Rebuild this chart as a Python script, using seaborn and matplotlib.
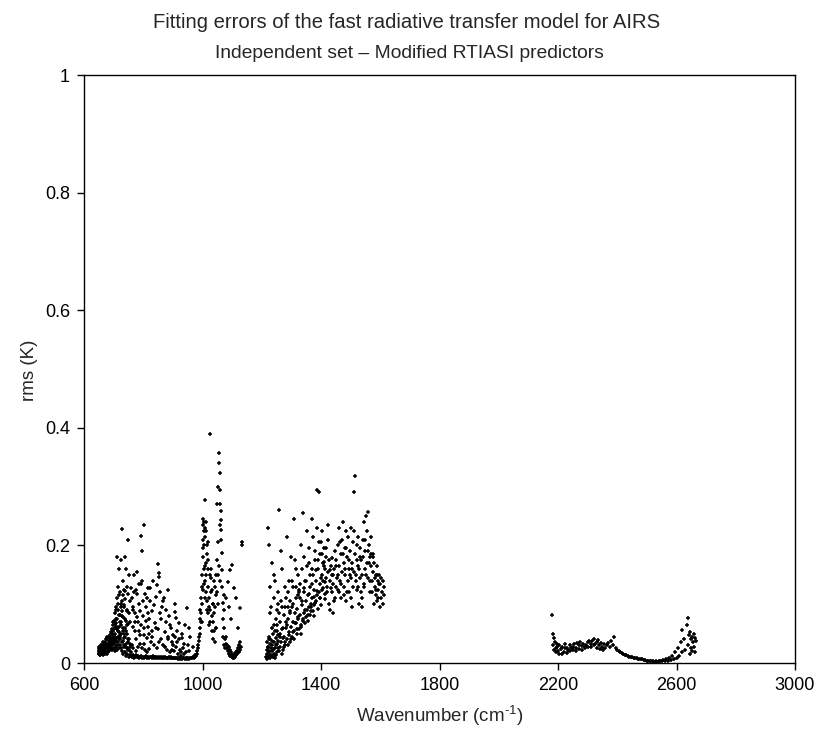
import numpy as np
import pandas as pd
import matplotlib
matplotlib.use("Agg")
import matplotlib.pyplot as plt
import seaborn as sns

# ---------------- data ----------------
# Band 650-760 cm-1
band_a_x = [649, 650, 651, 652, 653, 654, 655, 656, 657, 658,
            659, 660, 661, 662, 663, 664, 665, 666, 667, 668,
            669, 670, 671, 672, 673, 674, 675, 676, 677, 678,
            679, 680, 681, 682, 683, 684, 685, 686, 687, 688,
            689, 690, 691, 692, 693, 694, 695, 696, 697, 698,
            699, 700, 701, 702, 703, 704, 705, 706, 707, 708,
            709, 710, 711, 712, 713, 714, 715, 716, 717, 718,
            719, 720, 721, 722, 723, 724, 725, 726, 727, 728,
            729, 730, 731, 732, 733, 734, 735, 736, 737, 738,
            739, 740, 741, 742, 743, 744, 745, 746, 747, 748,
            749, 750, 751, 752, 753, 754, 755, 756, 757, 758,
            700.5, 702.5, 704.5, 706.5, 708.5, 710.5, 712.5, 714.5, 716.5, 718.5,
            720.5, 722.5, 724.5, 726.5, 728.5, 730.5, 732.5, 734.5, 736.5, 738.5,
            740.5, 742.5, 744.5, 746.5, 748.5, 750.5, 752.5, 754.5, 756.5, 758.5,
            649.5, 651.5, 653.5, 655.5, 657.5, 659.5, 661.5, 663.5, 665.5, 667.5,
            669.5, 671.5, 673.5, 675.5, 677.5, 679.5, 681.5, 683.5, 685.5, 687.5,
            689.5, 691.5, 693.5, 695.5, 697.5, 699.5, 701.5, 703.5, 705.5, 707.5,
            709.5, 711.5, 713.5, 715.5, 717.5, 719.5, 721.5, 723.5, 725.5, 727.5,
            729.5, 731.5, 733.5, 735.5, 737.5, 739.5, 741.5, 743.5, 745.5, 747.5]
band_a_y = [0.020, 0.015, 0.024, 0.018, 0.022, 0.013, 0.027, 0.019, 0.016, 0.025,
            0.021, 0.030, 0.017, 0.023, 0.028, 0.014, 0.020, 0.033, 0.026, 0.018,
            0.022, 0.035, 0.029, 0.019, 0.024, 0.040, 0.031, 0.016, 0.021, 0.027,
            0.045, 0.025, 0.018, 0.032, 0.022, 0.038, 0.028, 0.020, 0.048, 0.030,
            0.026, 0.052, 0.034, 0.041, 0.024, 0.058, 0.037, 0.030, 0.065, 0.045,
            0.055, 0.040, 0.072, 0.048, 0.035, 0.085, 0.060, 0.050, 0.095, 0.042,
            0.068, 0.180, 0.058, 0.110, 0.075, 0.045, 0.130, 0.090, 0.062, 0.160,
            0.052, 0.082, 0.120, 0.070, 0.040, 0.100, 0.175, 0.064, 0.088, 0.228,
            0.035, 0.115, 0.078, 0.055, 0.140, 0.030, 0.098, 0.125, 0.060, 0.180,
            0.045, 0.108, 0.072, 0.160, 0.028, 0.130, 0.090, 0.050, 0.210, 0.066,
            0.022, 0.118, 0.040, 0.085, 0.150, 0.032, 0.070, 0.105, 0.018, 0.128,
            0.025, 0.032, 0.020, 0.038, 0.028, 0.030, 0.022, 0.035, 0.026, 0.040,
            0.030, 0.045, 0.025, 0.050, 0.020, 0.038, 0.015, 0.042, 0.028, 0.018,
            0.032, 0.012, 0.025, 0.015, 0.035, 0.010, 0.022, 0.014, 0.028, 0.012,
            0.016, 0.028, 0.020, 0.014, 0.030, 0.018, 0.025, 0.036, 0.017, 0.030,
            0.024, 0.016, 0.032, 0.020, 0.040, 0.022, 0.030, 0.026, 0.044, 0.035,
            0.042, 0.028, 0.050, 0.022, 0.036, 0.070, 0.058, 0.065, 0.045, 0.075,
            0.090, 0.062, 0.100, 0.055, 0.082, 0.115, 0.048, 0.095, 0.070, 0.105,
            0.080, 0.060, 0.095, 0.050, 0.075, 0.122, 0.055, 0.088, 0.065, 0.040]

# Band 760-990 cm-1
band_b_x = [760, 763, 766, 769, 772, 775, 778, 781, 784, 787,
            790, 793, 796, 799, 802, 805, 808, 811, 814, 817,
            820, 823, 826, 829, 832, 835, 838, 841, 844, 847,
            850, 853, 856, 859, 862, 865, 868, 871, 874, 877,
            880, 883, 886, 889, 892, 895, 898, 901, 904, 907,
            762, 765, 768, 771, 774, 777, 780, 783, 786, 789,
            792, 794, 797, 799, 801, 804, 807, 810, 813, 816,
            819, 822, 825, 828, 831, 834, 837, 840, 843, 846,
            849, 851, 852, 853, 855, 858, 861, 864, 867, 870,
            873, 876, 879, 882, 885, 888, 891, 894, 897, 900,
            903, 906, 908, 908.5, 909, 912, 915, 918, 921, 924,
            927, 930, 933, 936, 939, 942, 946, 950, 954, 958,
            761, 764, 767, 770, 773, 776, 779, 782, 785, 788,
            791, 795, 798, 802, 806, 809, 812, 815, 818, 821,
            910, 913, 916, 919, 922, 925, 928, 931, 934, 937,
            940, 943, 946, 949, 952, 955, 958, 961, 964, 967,
            970, 972, 974, 976, 978, 980, 982, 984, 986, 988,
            766.5, 772.5, 778.5, 784.5, 790.5, 796.5, 803.5, 811.5, 817.5, 824,
            830, 836, 842, 848, 854, 860, 866, 872, 878, 884,
            890, 896, 902, 914, 920, 926, 932, 944, 956, 968]
band_b_y = [0.012, 0.010, 0.014, 0.009, 0.011, 0.013, 0.010, 0.012, 0.009, 0.011,
            0.010, 0.012, 0.009, 0.011, 0.008, 0.010, 0.012, 0.009, 0.011, 0.010,
            0.009, 0.011, 0.010, 0.008, 0.012, 0.009, 0.010, 0.011, 0.008, 0.010,
            0.009, 0.010, 0.008, 0.011, 0.009, 0.010, 0.008, 0.009, 0.011, 0.008,
            0.009, 0.008, 0.010, 0.009, 0.008, 0.010, 0.009, 0.008, 0.009, 0.008,
            0.110, 0.062, 0.150, 0.085, 0.040, 0.125, 0.155, 0.070, 0.100, 0.048,
            0.216, 0.135, 0.190, 0.080, 0.235, 0.060, 0.118, 0.095, 0.042, 0.128,
            0.075, 0.105, 0.035, 0.088, 0.055, 0.140, 0.030, 0.068, 0.112, 0.025,
            0.058, 0.168, 0.153, 0.147, 0.085, 0.120, 0.040, 0.095, 0.030, 0.110,
            0.052, 0.070, 0.022, 0.125, 0.045, 0.080, 0.018, 0.060, 0.035, 0.030,
            0.020, 0.045, 0.100, 0.087, 0.077, 0.028, 0.055, 0.015, 0.040, 0.022,
            0.018, 0.050, 0.025, 0.032, 0.015, 0.065, 0.094, 0.030, 0.020, 0.045,
            0.030, 0.090, 0.025, 0.120, 0.055, 0.020, 0.078, 0.028, 0.135, 0.032,
            0.065, 0.025, 0.105, 0.032, 0.022, 0.072, 0.018, 0.085, 0.024, 0.050,
            0.008, 0.009, 0.007, 0.008, 0.009, 0.007, 0.008, 0.007, 0.008, 0.009,
            0.007, 0.008, 0.007, 0.009, 0.008, 0.007, 0.008, 0.009, 0.008, 0.010,
            0.009, 0.011, 0.010, 0.013, 0.012, 0.016, 0.020, 0.025, 0.030, 0.038,
            0.095, 0.070, 0.118, 0.055, 0.088, 0.140, 0.048, 0.110, 0.062, 0.128,
            0.045, 0.098, 0.060, 0.132, 0.035, 0.075, 0.105, 0.028, 0.090, 0.040,
            0.065, 0.022, 0.048, 0.035, 0.068, 0.012, 0.042, 0.018, 0.060, 0.028]

# Band 990-1135 cm-1
band_c_x = [989, 990, 991, 992, 993, 994, 995, 996, 997, 998,
            999, 1000, 1000.5, 1001, 1002, 1003, 1004, 1005, 1006, 1007,
            1008, 1009, 1010, 1011, 1012, 1013, 1014, 1015, 1016, 1017,
            1018, 1020, 1022, 1024, 1025, 1026, 1028, 1030, 1032, 1034,
            1036, 1038, 1040, 1042, 1044, 1046, 1048, 1050, 1052, 1054,
            1056, 1057, 1058, 1059, 1060, 1061, 1062, 1063, 1064, 1065,
            1066, 1067, 1068, 1069, 1070, 1071, 1072, 1073, 1074, 1075,
            1019, 1021, 1023, 1027, 1029, 1031, 1033, 1035, 1037, 1039,
            1076, 1078, 1080, 1082, 1084, 1086, 1088, 1090, 1092, 1094,
            1096, 1098, 1100, 1102, 1104, 1106, 1108, 1110, 1112, 1114,
            1116, 1118, 1120, 1122, 1124, 1126, 1128, 1130, 1132, 1134,
            1081, 1085, 1089, 1093, 1097, 1101, 1105, 1113, 1119, 1125,
            998.5, 1001.5, 1003.5, 1005.5, 1007.5, 1009.5, 1011.5, 1013.5, 1015.5, 1017.5,
            1041, 1043, 1045, 1047, 1049, 1051, 1053, 1055, 1057.5, 1059.5]
band_c_y = [0.045, 0.060, 0.050, 0.075, 0.090, 0.070, 0.110, 0.085, 0.130, 0.100,
            0.150, 0.235, 0.125, 0.210, 0.180, 0.245, 0.160, 0.225, 0.200, 0.140,
            0.230, 0.277, 0.215, 0.170, 0.240, 0.120, 0.200, 0.105, 0.185, 0.160,
            0.130, 0.175, 0.095, 0.150, 0.390, 0.070, 0.120, 0.160, 0.055, 0.100,
            0.040, 0.140, 0.085, 0.035, 0.115, 0.060, 0.175, 0.270, 0.150, 0.300,
            0.357, 0.340, 0.323, 0.295, 0.270, 0.258, 0.243, 0.226, 0.209, 0.187,
            0.158, 0.130, 0.102, 0.074, 0.045, 0.115, 0.060, 0.030, 0.090, 0.025,
            0.085, 0.110, 0.065, 0.090, 0.145, 0.080, 0.125, 0.070, 0.100, 0.055,
            0.040, 0.032, 0.045, 0.025, 0.030, 0.020, 0.028, 0.015, 0.022, 0.012,
            0.018, 0.010, 0.014, 0.008, 0.012, 0.009, 0.015, 0.011, 0.018, 0.013,
            0.020, 0.016, 0.025, 0.019, 0.030, 0.022, 0.035, 0.028, 0.200, 0.205,
            0.110, 0.137, 0.095, 0.159, 0.075, 0.167, 0.128, 0.111, 0.060, 0.094,
            0.070, 0.195, 0.135, 0.240, 0.165, 0.110, 0.225, 0.150, 0.090, 0.205,
            0.130, 0.095, 0.060, 0.150, 0.120, 0.205, 0.100, 0.165, 0.235, 0.140]

# Band 1215-1615 cm-1
band_d_x = [1216, 1217, 1218, 1219, 1220, 1221, 1222, 1223, 1224, 1225,
            1226, 1227, 1228, 1229, 1230, 1231, 1232, 1233, 1234, 1235,
            1236, 1237, 1238, 1239, 1240, 1241, 1242, 1243, 1244, 1245,
            1246, 1247, 1248, 1249, 1250, 1251, 1252, 1253, 1254, 1255,
            1256, 1258, 1260, 1262, 1264, 1266, 1268, 1270, 1272, 1274,
            1276, 1278, 1280, 1282, 1284, 1286, 1288, 1290, 1292, 1294,
            1296, 1298, 1300, 1302, 1304, 1306, 1308, 1310, 1312, 1314,
            1316, 1318, 1320, 1322, 1324, 1326, 1328, 1330, 1332, 1334,
            1336, 1338, 1340, 1342, 1344, 1346, 1348, 1350, 1352, 1354,
            1356, 1358, 1360, 1362, 1364, 1366, 1368, 1370, 1372, 1374,
            1376, 1378, 1380, 1382, 1384, 1386, 1388, 1390, 1392, 1394,
            1396, 1398, 1400, 1402, 1404, 1406, 1408, 1410, 1412, 1414,
            1416, 1418, 1420, 1422, 1424, 1426, 1428, 1430, 1432, 1434,
            1436, 1438, 1440, 1442, 1444, 1446, 1448, 1450, 1452, 1454,
            1456, 1458, 1460, 1462, 1464, 1466, 1468, 1470, 1472, 1474,
            1476, 1478, 1480, 1482, 1484, 1486, 1488, 1490, 1492, 1494,
            1496, 1498, 1500, 1502, 1504, 1506, 1508, 1510, 1512, 1514,
            1516, 1518, 1520, 1522, 1524, 1526, 1528, 1530, 1532, 1534,
            1536, 1538, 1540, 1542, 1544, 1546, 1548, 1550, 1552, 1554,
            1556, 1558, 1560, 1562, 1564, 1566, 1568, 1570, 1572, 1574,
            1576, 1578, 1580, 1582, 1584, 1586, 1588, 1590, 1592, 1594,
            1596, 1598, 1600, 1602, 1604, 1606, 1608, 1610, 1612, 1614,
            1259, 1263, 1267, 1271, 1275, 1279, 1283, 1287, 1291, 1295,
            1299, 1303, 1307, 1311, 1315, 1319, 1323, 1327, 1331, 1335,
            1339, 1343, 1347, 1351, 1355, 1359, 1363, 1367, 1371, 1375,
            1379, 1383, 1387, 1391, 1395, 1399, 1403, 1407, 1411, 1415,
            1229.5, 1241.5, 1253.5, 1265, 1277, 1289, 1301, 1313, 1325, 1337,
            1217.5, 1219.5, 1221.5, 1223.5, 1225.5, 1227.5, 1231.5, 1235.5, 1239.5, 1243.5,
            1247.5, 1251.5, 1255.5, 1257, 1261, 1269, 1273, 1281, 1285, 1293,
            1297, 1305, 1309, 1317, 1321, 1329, 1333, 1341, 1345, 1353,
            1357, 1361, 1365, 1369, 1373, 1377, 1381, 1385, 1389, 1393,
            1397, 1401, 1405, 1409, 1413, 1417, 1421, 1425, 1429, 1433,
            1437, 1441, 1445, 1449, 1457, 1461, 1465, 1469, 1473, 1477,
            1481, 1485, 1489, 1493, 1497, 1501, 1505, 1509, 1513, 1517,
            1521, 1525, 1529, 1533, 1537, 1541, 1545, 1549, 1553, 1557,
            1561, 1565, 1569, 1573, 1577, 1581, 1585, 1589, 1593, 1597]
band_d_y = [0.010, 0.022, 0.006, 0.035, 0.015, 0.230, 0.028, 0.200, 0.012, 0.045,
            0.018, 0.130, 0.008, 0.040, 0.095, 0.025, 0.014, 0.060, 0.020, 0.170,
            0.030, 0.011, 0.050, 0.022, 0.110, 0.016, 0.065, 0.035, 0.008, 0.140,
            0.026, 0.075, 0.042, 0.013, 0.090, 0.032, 0.055, 0.019, 0.120, 0.038,
            0.048, 0.260, 0.028, 0.070, 0.105, 0.036, 0.058, 0.160, 0.022, 0.082,
            0.045, 0.030, 0.095, 0.060, 0.215, 0.040, 0.075, 0.120, 0.052, 0.035,
            0.088, 0.062, 0.180, 0.045, 0.100, 0.070, 0.245, 0.055, 0.085, 0.130,
            0.068, 0.050, 0.092, 0.150, 0.075, 0.058, 0.110, 0.082, 0.200, 0.065,
            0.098, 0.072, 0.255, 0.120, 0.085, 0.140, 0.078, 0.105, 0.225, 0.090,
            0.115, 0.095, 0.170, 0.082, 0.130, 0.100, 0.245, 0.110, 0.088, 0.150,
            0.098, 0.125, 0.190, 0.105, 0.140, 0.115, 0.295, 0.160, 0.120, 0.290,
            0.135, 0.110, 0.205, 0.150, 0.125, 0.170, 0.140, 0.195, 0.118, 0.160,
            0.145, 0.180, 0.130, 0.210, 0.155, 0.100, 0.175, 0.140, 0.090, 0.165,
            0.120, 0.150, 0.085, 0.135, 0.160, 0.110, 0.190, 0.130, 0.175, 0.145,
            0.200, 0.125, 0.165, 0.230, 0.140, 0.185, 0.110, 0.210, 0.155, 0.240,
            0.170, 0.130, 0.195, 0.150, 0.225, 0.105, 0.180, 0.140, 0.215, 0.160,
            0.120, 0.190, 0.145, 0.230, 0.170, 0.095, 0.205, 0.290, 0.155, 0.185,
            0.318, 0.140, 0.200, 0.125, 0.165, 0.215, 0.100, 0.180, 0.145, 0.120,
            0.175, 0.095, 0.150, 0.210, 0.130, 0.240, 0.160, 0.190, 0.250, 0.170,
            0.225, 0.256, 0.145, 0.200, 0.180, 0.120, 0.215, 0.165, 0.140, 0.185,
            0.155, 0.100, 0.170, 0.130, 0.150, 0.115, 0.165, 0.105, 0.140, 0.125,
            0.150, 0.095, 0.135, 0.110, 0.145, 0.120, 0.100, 0.140, 0.115, 0.130,
            0.020, 0.045, 0.015, 0.060, 0.028, 0.035, 0.070, 0.030, 0.048, 0.085,
            0.040, 0.095, 0.052, 0.068, 0.110, 0.058, 0.078, 0.120, 0.062, 0.105,
            0.075, 0.128, 0.090, 0.140, 0.082, 0.118, 0.150, 0.095, 0.135, 0.112,
            0.102, 0.158, 0.122, 0.175, 0.110, 0.145, 0.185, 0.128, 0.165, 0.138,
            0.085, 0.150, 0.100, 0.190, 0.130, 0.095, 0.140, 0.175, 0.125, 0.160,
            0.015, 0.028, 0.010, 0.040, 0.020, 0.032, 0.012, 0.038, 0.024, 0.055,
            0.030, 0.065, 0.025, 0.085, 0.050, 0.095, 0.042, 0.110, 0.065, 0.140,
            0.105, 0.130, 0.040, 0.160, 0.115, 0.135, 0.050, 0.180, 0.068, 0.165,
            0.072, 0.195, 0.088, 0.160, 0.215, 0.080, 0.175, 0.230, 0.092, 0.205,
            0.185, 0.098, 0.225, 0.172, 0.108, 0.195, 0.120, 0.235, 0.158, 0.128,
            0.178, 0.150, 0.105, 0.165, 0.150, 0.120, 0.205, 0.135, 0.185, 0.115,
            0.160, 0.195, 0.120, 0.175, 0.150, 0.110, 0.160, 0.130, 0.225, 0.150,
            0.175, 0.130, 0.160, 0.195, 0.110, 0.180, 0.135, 0.210, 0.150, 0.190,
            0.170, 0.140, 0.185, 0.120, 0.180, 0.145, 0.125, 0.150, 0.110, 0.135]

# Band 2180-2665 cm-1
band_e_x = [2180, 2182, 2184, 2186, 2188, 2190, 2192, 2194, 2196, 2198,
            2200, 2205, 2210, 2215, 2220, 2225, 2230, 2235, 2240, 2245,
            2250, 2255, 2260, 2265, 2270, 2275, 2280, 2285, 2290, 2295,
            2300, 2305, 2310, 2315, 2320, 2325, 2330, 2335, 2340, 2345,
            2350, 2355, 2360, 2365, 2370, 2375, 2380, 2385, 2390, 2395,
            2400, 2405, 2410, 2415, 2420, 2425, 2430, 2435, 2440, 2445,
            2450, 2455, 2460, 2465, 2470, 2475, 2480, 2485, 2490, 2495,
            2500, 2505, 2510, 2515, 2520, 2525, 2530, 2535, 2540, 2545,
            2550, 2555, 2560, 2565, 2570, 2575, 2580, 2585, 2590, 2595,
            2600, 2605, 2610, 2615, 2617, 2620, 2625, 2630, 2635, 2638,
            2640, 2642, 2644, 2646, 2648, 2650, 2652, 2654, 2656, 2658,
            2660, 2662, 2664, 2666, 2202, 2212, 2222, 2232, 2242, 2252,
            2262, 2272, 2282, 2292, 2302, 2312, 2322, 2332, 2342, 2352]
band_e_y = [0.082, 0.050, 0.030, 0.042, 0.022, 0.035, 0.025, 0.019, 0.032, 0.027,
            0.020, 0.030, 0.024, 0.028, 0.018, 0.033, 0.026, 0.022, 0.030, 0.025,
            0.028, 0.032, 0.026, 0.034, 0.030, 0.036, 0.029, 0.033, 0.027, 0.031,
            0.035, 0.038, 0.033, 0.037, 0.040, 0.032, 0.036, 0.039, 0.030, 0.034,
            0.028, 0.032, 0.026, 0.030, 0.034, 0.028, 0.038, 0.030, 0.045, 0.025,
            0.022, 0.020, 0.019, 0.017, 0.016, 0.014, 0.013, 0.012, 0.011, 0.010,
            0.010, 0.009, 0.008, 0.008, 0.007, 0.007, 0.006, 0.006, 0.005, 0.005,
            0.004, 0.004, 0.003, 0.003, 0.003, 0.002, 0.003, 0.002, 0.003, 0.004,
            0.003, 0.005, 0.004, 0.006, 0.003, 0.008, 0.005, 0.012, 0.006, 0.018,
            0.008, 0.025, 0.012, 0.035, 0.056, 0.018, 0.040, 0.022, 0.065, 0.076,
            0.030, 0.047, 0.015, 0.052, 0.025, 0.040, 0.020, 0.045, 0.035, 0.050,
            0.028, 0.042, 0.018, 0.038, 0.016, 0.015, 0.025, 0.017, 0.020, 0.022,
            0.020, 0.024, 0.022, 0.025, 0.028, 0.027, 0.030, 0.026, 0.024, 0.022]

x_ticks = [600, 1000, 1400, 1800, 2200, 2600, 3000]
y_ticks = [0, 0.2, 0.4, 0.6, 0.8, 1]
y_tick_labels = ["0", "0.2", "0.4", "0.6", "0.8", "1"]

title = "Fitting errors of the fast radiative transfer model for AIRS"
subtitle = "Independent set \u2013 Modified RTIASI predictors"

# ---------------- figure ----------------
sns.set_style("ticks")
plt.rcParams["font.family"] = ["Liberation Sans", "DejaVu Sans"]
plt.rcParams["mathtext.fontset"] = "custom"
plt.rcParams["mathtext.rm"] = "Liberation Sans"

df = pd.DataFrame({
    "wavenumber": band_a_x + band_b_x + band_c_x + band_d_x + band_e_x,
    "rms": band_a_y + band_b_y + band_c_y + band_d_y + band_e_y,
})

fig = plt.figure(figsize=(8.14, 7.30), dpi=100)
ax = fig.add_axes([84 / 814, 67 / 730, 711 / 814, 588 / 730])

sns.scatterplot(data=df, x="wavenumber", y="rms", ax=ax, color="black",
                marker="+", s=11, linewidth=1.1, legend=False)

ax.set_xlim(600, 3000)
ax.set_ylim(0, 1)
ax.set_xticks(x_ticks)
ax.set_xticklabels([str(t) for t in x_ticks])
ax.set_yticks(y_ticks)
ax.set_yticklabels(y_tick_labels)
for side in ["left", "right", "top", "bottom"]:
    ax.spines[side].set_visible(True)
    ax.spines[side].set_color("black")
    ax.spines[side].set_linewidth(1.0)
ax.tick_params(axis="both", direction="out", length=5, width=1.0,
               labelsize=13, colors="black", pad=5)
ax.tick_params(top=False, right=False)
ax.set_xlabel("")
ax.set_ylabel("")

fig.text(0.4994, 1 - 23 / 730, title, ha="center", va="center", fontsize=14.6)
fig.text(0.503, 1 - 54 / 730, subtitle, ha="center", va="center", fontsize=13.9)
fig.text(30 / 814, 1 - 370 / 730, "rms (K)", rotation=90, ha="center",
         va="center", fontsize=13.5)
fig.text(440 / 814, 1 - 716 / 730, r"Wavenumber (cm$^{\text{-1}}$)",
         ha="center", va="center", fontsize=13.5)

fig.savefig("out.png", dpi=100, facecolor="white")
